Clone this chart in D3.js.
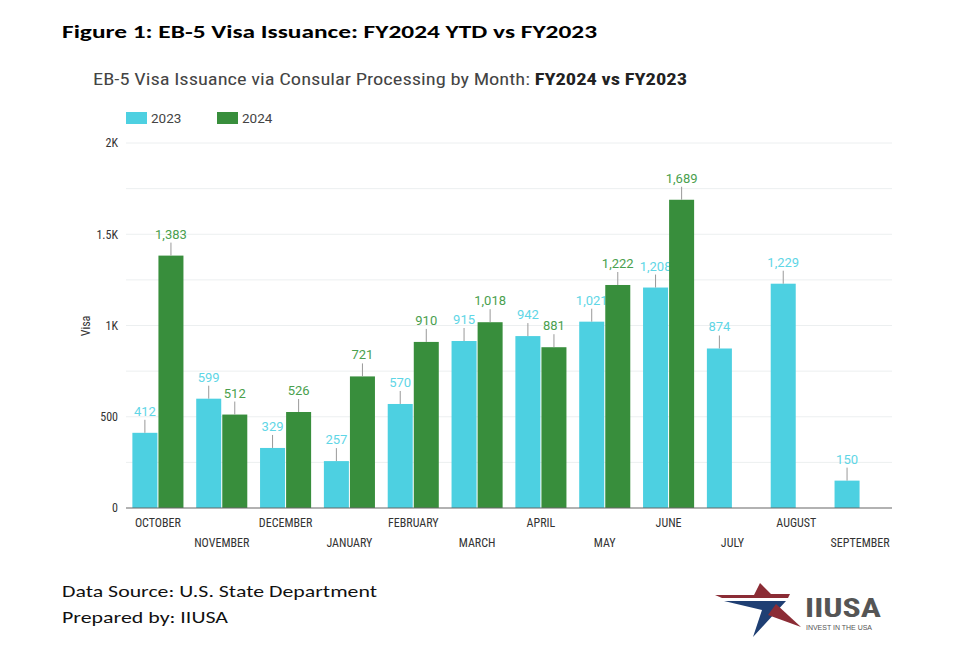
<!DOCTYPE html>
<html><head><meta charset="utf-8">
<script src="https://cdn.jsdelivr.net/npm/d3@7"></script>
<style>
body{margin:0;background:#fff;}
svg{display:block;}
</style></head>
<body>
<svg id="c" width="961" height="652"></svg>
<script>
const months = ["OCTOBER","NOVEMBER","DECEMBER","JANUARY","FEBRUARY","MARCH","APRIL","MAY","JUNE","JULY","AUGUST","SEPTEMBER"];
const series = ["2023","2024"];
const values2023 = [412,599,329,257,570,915,942,1021,1208,874,1229,150];
const values2024 = [1383,512,526,721,910,1018,881,1222,1689,null,null,null];
const yTicks = [0,500,1000,1500,2000];
const yTickLabels = ["0","500","1K","1.5K","2K"];
const barColors = ["#4dd0e1","#388e3c"];
const labelColors = ["#5fd6e6","#4a9f4e"];

const svg = d3.select("#c");
const cond = "'Roboto Condensed','Liberation Sans Narrow','Arial Narrow',Roboto,sans-serif";
const cal = "Carlito,Calibri,'Open Sans',sans-serif";

// Titles
svg.append("text").attr("x",62).attr("y",38).attr("font-family",cal).attr("font-weight","bold")
  .attr("font-size",19).attr("fill","#000").attr("textLength",535).attr("lengthAdjust","spacingAndGlyphs")
  .text("Figure 1: EB-5 Visa Issuance: FY2024 YTD vs FY2023");
const sub = svg.append("text").attr("x",93).attr("y",85).attr("font-family",cond).attr("font-size",16).attr("fill","#444")
  .attr("textLength",594).attr("lengthAdjust","spacingAndGlyphs");
sub.append("tspan").text("EB-5 Visa Issuance via Consular Processing by Month: ");
sub.append("tspan").attr("font-weight","bold").attr("fill","#222").text("FY2024 vs FY2023");

// Legend
const lg = svg.append("g");
series.forEach((s,i)=>{
  const x0 = 126 + i*91;
  lg.append("rect").attr("x",x0).attr("y",112).attr("width",21).attr("height",12).attr("fill",barColors[i]);
  lg.append("text").attr("x",x0+25).attr("y",123).attr("font-family","Roboto,sans-serif").attr("font-size",13.5).attr("fill","#444").text(s);
});

// Scales
const x0 = d3.scaleBand().domain(months).range([126,892]).paddingInner(0.2).paddingOuter(0.1);
const x1 = d3.scaleBand().domain(series).range([0,x0.bandwidth()]).paddingInner(0.04);
const y = d3.scaleLinear().domain([0,2000]).range([508,143]);

// Gridlines
const grid = svg.append("g");
d3.range(250,2001,250).forEach(v=>{
  grid.append("line").attr("x1",126).attr("x2",892).attr("y1",y(v)).attr("y2",y(v))
    .attr("stroke","#eceff0").attr("stroke-width",1);
});

// Y axis
const yAxis = svg.append("g").attr("transform","translate(126,0)")
  .call(d3.axisLeft(y).tickValues(yTicks).tickFormat((d,i)=>yTickLabels[i]).tickSize(0).tickPadding(8));
yAxis.select(".domain").remove();
yAxis.selectAll("text").attr("font-family",cond).attr("font-size",12).attr("fill","#333");
svg.append("text").attr("transform","translate(90,326) rotate(-90)").attr("text-anchor","middle")
  .attr("font-family",cond).attr("font-size",12).attr("fill","#333").text("Visa");

// Bars
const data = months.map((m,i)=>({m, vals:[values2023[i],values2024[i]]}));
const groups = svg.append("g").selectAll("g").data(data).join("g")
  .attr("transform",d=>`translate(${x0(d.m)},0)`);
series.forEach((s,si)=>{
  const valid = groups.filter(d=>d.vals[si]!=null);
  valid.append("rect").attr("x",x1(s)).attr("width",x1.bandwidth())
    .attr("y",d=>y(d.vals[si])).attr("height",d=>y(0)-y(d.vals[si])).attr("fill",barColors[si]);
  valid.append("line").attr("x1",x1(s)+x1.bandwidth()/2).attr("x2",x1(s)+x1.bandwidth()/2)
    .attr("y1",d=>y(d.vals[si])).attr("y2",d=>y(d.vals[si])-13).attr("stroke","#999").attr("stroke-width",1);
  valid.append("text").attr("x",x1(s)+x1.bandwidth()/2).attr("y",d=>y(d.vals[si])-17)
    .attr("text-anchor","middle").attr("font-family","Roboto,sans-serif").attr("font-size",13)
    .attr("fill",labelColors[si]).text(d=>d3.format(",")(d.vals[si]));
});

// X axis
svg.append("line").attr("x1",126).attr("x2",892).attr("y1",y(0)).attr("y2",y(0)).attr("stroke","#666").attr("stroke-width",1.2);
const xAxis = svg.append("g").attr("transform",`translate(0,${y(0)})`)
  .call(d3.axisBottom(x0).tickSize(0).tickPadding(0));
xAxis.select(".domain").remove();
xAxis.selectAll("text").attr("font-family",cond).attr("font-size",12).attr("fill","#333")
  .attr("dy",null).attr("y",(d,i)=> i%2===0 ? 19 : 39);

// Footer
svg.append("text").attr("x",62).attr("y",597).attr("font-family",cal).attr("font-size",17).attr("fill","#111")
  .attr("textLength",315).attr("lengthAdjust","spacingAndGlyphs").text("Data Source: U.S. State Department");
svg.append("text").attr("x",62).attr("y",623).attr("font-family",cal).attr("font-size",17).attr("fill","#111")
  .attr("textLength",166).attr("lengthAdjust","spacingAndGlyphs").text("Prepared by: IIUSA");

// Logo
const logo = svg.append("g");
logo.append("path").attr("d","M760,583 L771,594 L790,594 L788,598 L722,598 L715,595 L754,595 Z").attr("fill","#8b2c35");
logo.append("path").attr("d","M724,601 L786,601 L753,637 L762,610 Z").attr("fill","#1f3f73");
logo.append("path").attr("d","M776,604 L801,627 L768,615 Z").attr("fill","#8b2c35");
logo.append("text").attr("x",805).attr("y",617).attr("font-family","'Liberation Sans Narrow','Roboto Condensed',sans-serif")
  .attr("font-weight","bold").attr("font-size",25).attr("fill","#555").attr("textLength",76).attr("lengthAdjust","spacingAndGlyphs").text("IIUSA");
logo.append("text").attr("x",806).attr("y",630).attr("font-family","'Liberation Sans Narrow',sans-serif")
  .attr("font-size",6.5).attr("fill","#555").attr("textLength",66).attr("lengthAdjust","spacingAndGlyphs").text("INVEST IN THE USA");
</script>
</body></html>
